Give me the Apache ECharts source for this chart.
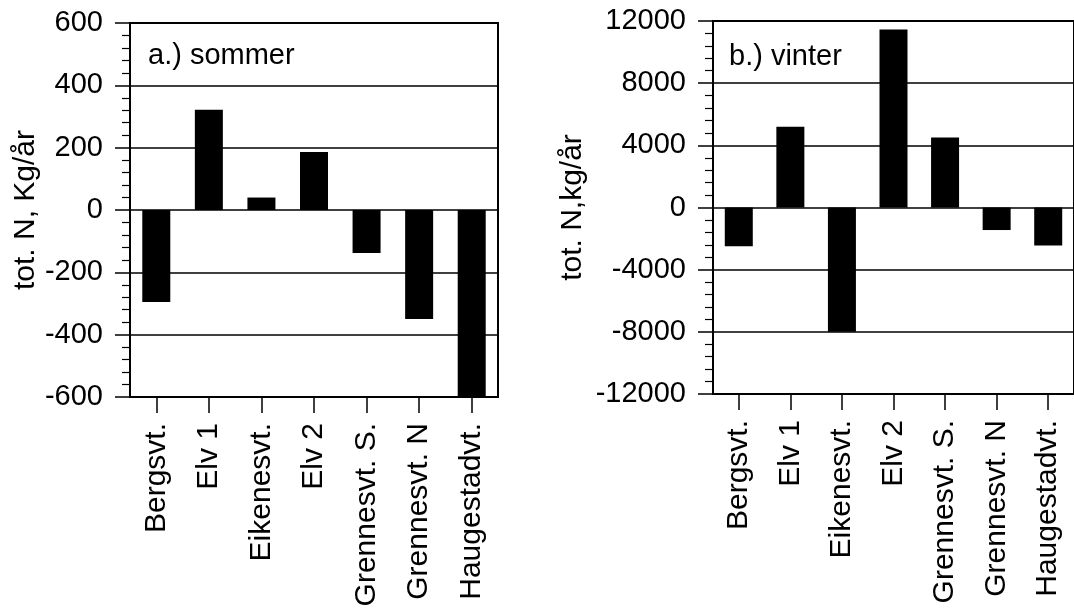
<!DOCTYPE html>
<html>
<head>
<meta charset="utf-8">
<script src="https://cdn.jsdelivr.net/npm/echarts@6/dist/echarts.min.js"></script>
<style>
html,body{margin:0;padding:0;background:#fff;}
#chart{width:1074px;height:612px;}
</style>
</head>
<body>
<div id="chart"></div>
<script>
// Data
const categories = ['Bergsvt.', 'Elv 1', 'Eikenesvt.', 'Elv 2', 'Grennesvt. S.', 'Grennesvt. N', 'Haugestadvt.'];
const sommerValues = [-295, 322, 40, 186, -138, -350, -600];
const vinterValues = [-2500, 5200, -8000, 11450, 4500, -1450, -2450];
const sommerAxis = { min: -600, max: 600, interval: 200 };
const vinterAxis = { min: -12000, max: 12000, interval: 4000 };
const panelTitles = ['a.) sommer', 'b.) vinter'];
const axisNames = ['tot. N, Kg/år', 'tot. N,kg/år'];

const FONT = '"Liberation Sans", Arial, Helvetica, sans-serif';
const chart = echarts.init(document.getElementById('chart'), null, { renderer: 'canvas' });

function xAxisCfg(gridIndex) {
  return {
    type: 'category', gridIndex: gridIndex, data: categories,
    axisLine: { show: true, onZero: false, lineStyle: { color: '#000', width: 2 } },
    axisTick: { show: true, alignWithLabel: true, length: 16, inside: false, lineStyle: { color: '#000', width: 1.5 } },
    axisLabel: { rotate: 90, margin: 26, fontSize: 30, color: '#000', fontFamily: FONT, interval: 0 },
    splitLine: { show: false }
  };
}
function yAxisCfg(gridIndex, ax, name, gap) {
  return {
    type: 'value', gridIndex: gridIndex, min: ax.min, max: ax.max, interval: ax.interval,
    name: name, nameLocation: 'middle', nameGap: gap, nameRotate: 90,
    nameTextStyle: { fontSize: 30, color: '#000', fontFamily: FONT },
    axisLine: { show: true, lineStyle: { color: '#000', width: 2 } },
    axisTick: { show: true, length: 15, inside: false, lineStyle: { color: '#000', width: 1.5 } },
    minorTick: { show: true, splitNumber: 5, length: 8, lineStyle: { color: '#000', width: 1.2 } },
    axisLabel: { margin: 27, fontSize: 29, color: '#000', fontFamily: FONT, formatter: v => String(v) },
    splitLine: { show: true, lineStyle: { color: '#000', width: 1.5 } }
  };
}

chart.setOption({
  backgroundColor: '#fff',
  animation: false,
  title: [
    { text: panelTitles[0], left: 143, top: 36, textStyle: { fontSize: 29, fontWeight: 'normal', color: '#000', fontFamily: FONT } },
    { text: panelTitles[1], left: 724, top: 37, textStyle: { fontSize: 29, fontWeight: 'normal', color: '#000', fontFamily: FONT } }
  ],
  grid: [
    { left: 130, top: 23, width: 368, height: 374, show: true, borderColor: '#000', borderWidth: 2, backgroundColor: 'transparent' },
    { left: 713, top: 21, width: 364, height: 373, show: true, borderColor: '#000', borderWidth: 2, backgroundColor: 'transparent' }
  ],
  xAxis: [xAxisCfg(0), xAxisCfg(1)],
  yAxis: [yAxisCfg(0, sommerAxis, axisNames[0], 85), yAxisCfg(1, vinterAxis, axisNames[1], 125)],
  series: [
    { type: 'bar', xAxisIndex: 0, yAxisIndex: 0, data: sommerValues, barWidth: 28, itemStyle: { color: '#000' } },
    { type: 'bar', xAxisIndex: 1, yAxisIndex: 1, data: vinterValues, barWidth: 28, itemStyle: { color: '#000' } }
  ]
});
</script>
</body>
</html>
